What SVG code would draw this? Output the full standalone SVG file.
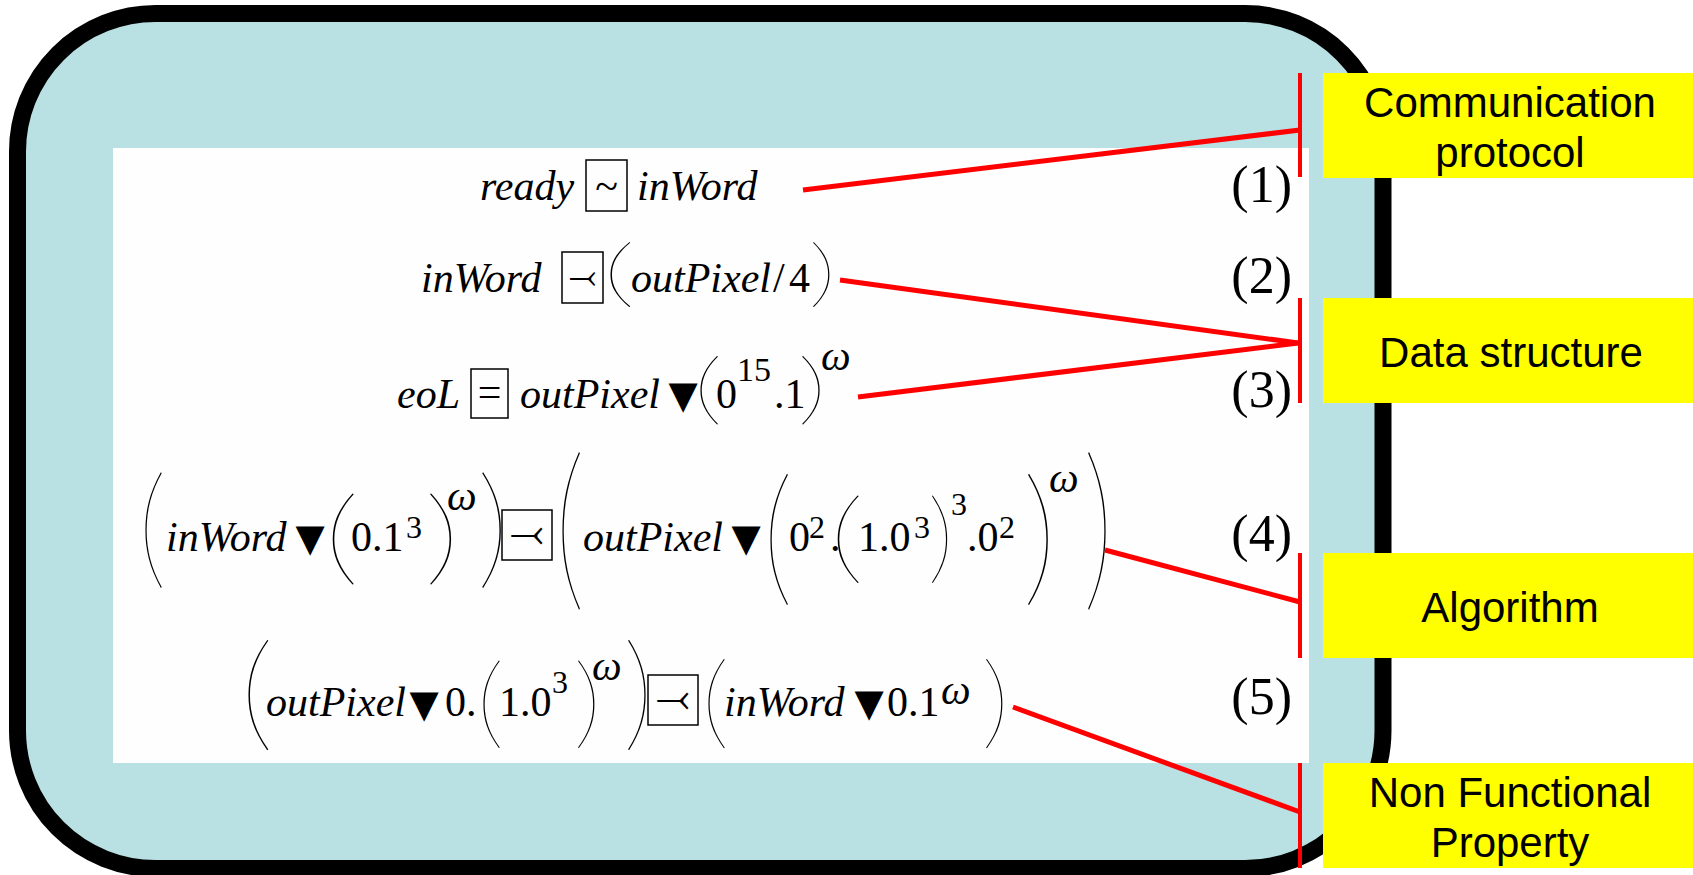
<svg xmlns="http://www.w3.org/2000/svg" width="1693" height="875" viewBox="0 0 1693 875">
<defs>
<style>
.v{font-family:"Liberation Serif","Times New Roman",serif;font-size:42px;font-style:italic;fill:#000}
.u{font-family:"Liberation Serif","Times New Roman",serif;font-size:42px;fill:#000}
.sp{font-family:"Liberation Serif","Times New Roman",serif;font-size:32px;fill:#000}
.om{font-family:"Liberation Serif","Times New Roman",serif;font-size:42px;font-style:italic;fill:#000}
.pr{font-family:Lato,Roboto,sans-serif;font-weight:100;font-size:100px;fill:#000}
.tr{font-family:"DejaVu Sans",sans-serif;font-size:38px;fill:#000;text-anchor:middle}
.ob{fill:none;stroke:#000;stroke-width:1.5}
.os{font-family:"DejaVu Sans",sans-serif;font-size:34px;fill:#000;text-anchor:middle}
.num{font-family:"Liberation Serif",serif;font-size:52px;text-anchor:end;fill:#000}
.lb{fill:#FFFF00}
.lt{font-family:"Liberation Sans",Arial,sans-serif;font-size:42px;text-anchor:middle;fill:#000}
.cn{stroke:#FF0000;stroke-width:5;fill:none}
.br{stroke:#FF0000;stroke-width:4}
</style>
</defs>
<g id="frame">
<rect x="17.5" y="13.5" width="1365.5" height="855" rx="138" fill="#B9E0E3" stroke="#000" stroke-width="17"/>
<rect x="113" y="148" width="1196" height="615" fill="#FEFEFE"/>
</g>
<g id="eq1">
<text class="v" x="480" y="200">ready</text>
<rect class="ob" x="586" y="160" width="41" height="51"/>
<text class="u" x="606.5" y="200" text-anchor="middle">~</text>
<text class="v" x="637" y="200">inWord</text>
<text class="num" x="1292" y="202">(1)</text>
</g>
<g id="eq2">
<text class="v" x="421" y="292">inWord</text>
<rect class="ob" x="562" y="252" width="41" height="51"/>
<text class="os" x="582.5" y="288">⤙</text>
<text class="pr" transform="matrix(1.36 0 0 0.744 601.8 298.1)">(</text>
<text class="v" x="631" y="292">outPixel</text>
<text class="u" x="773" y="292">/</text>
<text class="u" x="789" y="292">4</text>
<text class="pr" transform="matrix(1.12 0 0 0.744 808.5 298.1)">)</text>
<text class="num" x="1292" y="293">(2)</text>
</g>
<g id="eq3">
<text class="v" x="397" y="408">eoL</text>
<rect class="ob" x="471" y="369" width="37" height="49"/>
<text class="u" x="489.5" y="406" text-anchor="middle">=</text>
<text class="v" x="520" y="408">outPixel</text>
<text class="tr" x="683" y="408">▼</text>
<text class="pr" transform="matrix(1.2 0 0 0.779 692.8 414.7)">(</text>
<text class="u" x="716" y="408">0</text>
<text class="sp" x="737" y="381" style="font-size:34px">15</text>
<text class="u" x="774" y="408">.1</text>
<text class="pr" transform="matrix(1.2 0 0 0.779 797.2 414.7)">)</text>
<text class="om" x="821" y="370">ω</text>
<text class="num" x="1292" y="407">(3)</text>
</g>
<g id="eq4">
<text class="pr" transform="matrix(1.12 0 0 1.314 138.3 572.2)">(</text>
<text class="v" x="166" y="551">inWord</text>
<text class="tr" x="310" y="551">▼</text>
<text class="pr" transform="matrix(1.44 0 0 1.047 323.4 572.4)">(</text>
<text class="u" x="351" y="551">0.1</text>
<text class="sp" x="406" y="538">3</text>
<text class="pr" transform="matrix(1.44 0 0 1.047 424.2 572.4)">)</text>
<text class="om" x="447" y="510">ω</text>
<text class="pr" transform="matrix(1.28 0 0 1.314 476.9 572.2)">)</text>
<rect class="ob" x="502" y="510" width="50" height="50"/>
<text class="os" x="527" y="547" style="font-size:42px">⤙</text>
<text class="pr" transform="matrix(1.2 0 0 1.802 554.8 588.4)">(</text>
<text class="v" x="583" y="551">outPixel</text>
<text class="tr" x="746" y="551">▼</text>
<text class="pr" transform="matrix(1.2 0 0 1.512 762.8 586.9)">(</text>
<text class="u" x="789" y="551">0</text>
<text class="sp" x="809" y="538">2</text>
<text class="u" x="830" y="551">.</text>
<text class="pr" transform="matrix(1.44 0 0 1.0 828.4 571)">(</text>
<text class="u" x="858" y="551">1.0</text>
<text class="sp" x="914" y="538">3</text>
<text class="pr" transform="matrix(1.04 0 0 1.0 927.8 571)">)</text>
<text class="sp" x="951" y="515">3</text>
<text class="u" x="967" y="551">.0</text>
<text class="sp" x="999" y="538">2</text>
<text class="pr" transform="matrix(1.36 0 0 1.512 1022.6 586.9)">)</text>
<text class="om" x="1049" y="492">ω</text>
<text class="pr" transform="matrix(1.2 0 0 1.802 1083.2 588.4)">)</text>
<text class="num" x="1292" y="551">(4)</text>
</g>
<g id="eq5">
<text class="pr" transform="matrix(1.36 0 0 1.256 239.8 734.9)">(</text>
<text class="v" x="266" y="716">outPixel</text>
<text class="tr" x="424" y="717">▼</text>
<text class="u" x="445" y="716">0.</text>
<text class="pr" transform="matrix(1.12 0 0 1.0 476.3 736)">(</text>
<text class="u" x="499" y="716">1.0</text>
<text class="sp" x="552" y="693">3</text>
<text class="pr" transform="matrix(1.12 0 0 1.0 573.5 736)">)</text>
<text class="om" x="592" y="680">ω</text>
<text class="pr" transform="matrix(1.2 0 0 1.256 623.2 734.9)">)</text>
<rect class="ob" x="648" y="675" width="50" height="50"/>
<text class="os" x="673" y="712" style="font-size:42px">⤙</text>
<text class="pr" transform="matrix(1.12 0 0 1.023 701.3 735.7)">(</text>
<text class="v" x="724" y="716">inWord</text>
<text class="tr" x="869" y="716">▼</text>
<text class="u" x="887" y="716">0.1</text>
<text class="om" x="941" y="704">ω</text>
<text class="pr" transform="matrix(1.12 0 0 1.023 981.5 735.7)">)</text>
<text class="num" x="1292" y="714">(5)</text>
</g>
<g id="label-communication">
<rect class="lb" x="1323" y="73" width="370" height="105"/>
<text class="lt" x="1510" y="117">Communication</text>
<text class="lt" x="1510" y="167">protocol</text>
</g>
<g id="label-data">
<rect class="lb" x="1323" y="298" width="370" height="105"/>
<text class="lt" x="1511" y="367">Data structure</text>
</g>
<g id="label-algorithm">
<rect class="lb" x="1323" y="553" width="370" height="105"/>
<text class="lt" x="1510" y="622">Algorithm</text>
</g>
<g id="label-nfp">
<rect class="lb" x="1323" y="763" width="370" height="105"/>
<text class="lt" x="1510" y="807">Non Functional</text>
<text class="lt" x="1510" y="857">Property</text>
</g>
<g id="connectors">
<line class="br" x1="1300" y1="73" x2="1300" y2="177"/>
<line class="br" x1="1300" y1="298" x2="1300" y2="403"/>
<line class="br" x1="1300" y1="553" x2="1300" y2="658"/>
<line class="br" x1="1300" y1="763" x2="1300" y2="868"/>
<line class="cn" x1="803" y1="190" x2="1300" y2="130"/>
<line class="cn" x1="840" y1="280" x2="1298" y2="343"/>
<line class="cn" x1="858" y1="397" x2="1298" y2="343"/>
<line class="cn" x1="1105" y1="550" x2="1300" y2="602"/>
<line class="cn" x1="1013" y1="707" x2="1300" y2="812"/>
</g>
</svg>
